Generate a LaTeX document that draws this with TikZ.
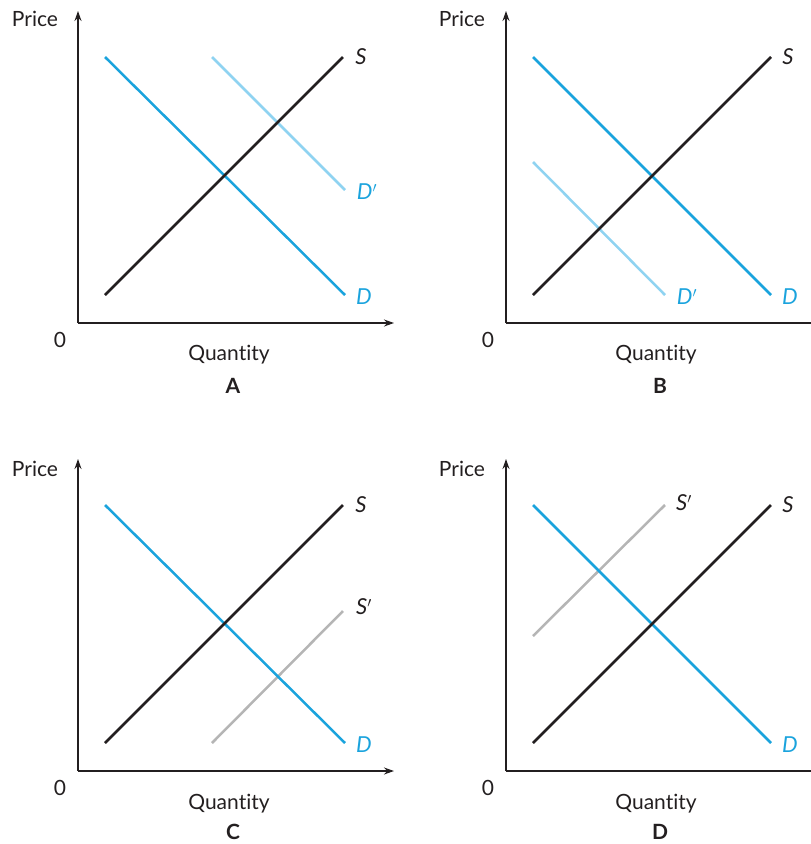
\documentclass[tikz,border=0pt]{standalone}
\usepackage{fontspec}
\setmainfont{Lato}[Ligatures={NoCommon}]
\usetikzlibrary{arrows.meta}
\definecolor{dblue}{HTML}{1AA3DD}
\definecolor{lblue}{HTML}{8FD3F1}
\definecolor{sgray}{HTML}{B5B5B5}
\definecolor{axisc}{HTML}{231F20}
\tikzset{
  axisline/.style={draw=axisc, line width=1.4pt, -{Stealth[length=10pt,width=7pt]}},
  curve/.style={line width=2.5pt},
  scurve/.style={curve, draw=axisc},
  dcurve/.style={curve, draw=dblue},
  dpcurve/.style={curve, draw=lblue},
  spcurve/.style={curve, draw=sgray},
  lab/.style={font=\fontsize{22}{26}\selectfont\itshape, inner sep=0pt},
  dlab/.style={lab, text=dblue},
  slab/.style={lab, text=axisc},
  axlab/.style={font=\fontsize{21}{25}\selectfont, inner sep=0pt, text=axisc},
  title/.style={font=\fontsize{21}{25}\selectfont\bfseries, inner sep=0pt, text=axisc}
}
\begin{document}
\begin{tikzpicture}[x=1pt,y=-1pt]
\useasboundingbox (0,0) rectangle (811,844);
% ---------- Panel A ----------
\begin{scope}
  \coordinate (aO) at (78,323);
  \coordinate (aY) at (78,11);
  \coordinate (aX) at (394,323);
  \draw[axisline] (aO) -- (aY);
  \draw[axisline] (aO) -- (aX);
  \coordinate (aD1) at (105,57);  \coordinate (aD2) at (345,295);
  \coordinate (aS1) at (105,295); \coordinate (aS2) at (343,57);
  \coordinate (aP1) at (212,57);  \coordinate (aP2) at (345,190);
  \draw[dpcurve] (aP1) -- (aP2);
  \draw[dcurve] (aD1) -- (aD2);
  \draw[scurve] (aS1) -- (aS2);
  \node[slab] (aSl) at (361,57) {S};
  \node[dlab] (aPl) at (367,192) {D$'$};
  \node[dlab] (aDl) at (364,297) {D};
  \node[axlab] (aPr) at (35,19) {Price};
  \node[axlab] (a0) at (60,340) {0};
  \node[axlab] (aQ) at (229,355) {Quantity};
  \node[title] (aT) at (233,386) {A};
\end{scope}
% ---------- Panel B ----------
\begin{scope}
  \coordinate (bO) at (506,323);
  \coordinate (bY) at (506,11);
  \coordinate (bX) at (822,323);
  \draw[axisline] (bO) -- (bY);
  \draw[axisline] (bO) -- (bX);
  \coordinate (bD1) at (533,57);  \coordinate (bD2) at (771,295);
  \coordinate (bS1) at (533,295); \coordinate (bS2) at (771,57);
  \coordinate (bP1) at (533,162); \coordinate (bP2) at (665,295);
  \draw[dpcurve] (bP1) -- (bP2);
  \draw[dcurve] (bD1) -- (bD2);
  \draw[scurve] (bS1) -- (bS2);
  \node[slab] (bSl) at (788,57) {S};
  \node[dlab] (bPl) at (687,297) {D$'$};
  \node[dlab] (bDl) at (790,297) {D};
  \node[axlab] (bPr) at (462,19) {Price};
  \node[axlab] (b0) at (488,340) {0};
  \node[axlab] (bQ) at (656,355) {Quantity};
  \node[title] (bT) at (660,386) {B};
\end{scope}
% ---------- Panel C ----------
\begin{scope}
  \coordinate (cO) at (78,771);
  \coordinate (cY) at (78,459);
  \coordinate (cX) at (394,771);
  \draw[axisline] (cO) -- (cY);
  \draw[axisline] (cO) -- (cX);
  \coordinate (cD1) at (105,505); \coordinate (cD2) at (345,743);
  \coordinate (cS1) at (105,743); \coordinate (cS2) at (343,505);
  \coordinate (cP1) at (212,743); \coordinate (cP2) at (343,611);
  \draw[spcurve] (cP1) -- (cP2);
  \draw[dcurve] (cD1) -- (cD2);
  \draw[scurve] (cS1) -- (cS2);
  \node[slab] (cSl) at (361,505) {S};
  \node[slab] (cPl) at (364,607) {S$'$};
  \node[dlab] (cDl) at (364,745) {D};
  \node[axlab] (cPr) at (35,469) {Price};
  \node[axlab] (c0) at (60,788) {0};
  \node[axlab] (cQ) at (229,804) {Quantity};
  \node[title] (cT) at (233,832) {C};
\end{scope}
% ---------- Panel D ----------
\begin{scope}
  \coordinate (dO) at (506,771);
  \coordinate (dY) at (506,459);
  \coordinate (dX) at (822,771);
  \draw[axisline] (dO) -- (dY);
  \draw[axisline] (dO) -- (dX);
  \coordinate (dD1) at (533,505); \coordinate (dD2) at (771,743);
  \coordinate (dS1) at (533,743); \coordinate (dS2) at (771,505);
  \coordinate (dP1) at (533,636); \coordinate (dP2) at (665,505);
  \draw[spcurve] (dP1) -- (dP2);
  \draw[dcurve] (dD1) -- (dD2);
  \draw[scurve] (dS1) -- (dS2);
  \node[slab] (dSl) at (788,505) {S};
  \node[slab] (dPl) at (684,503) {S$'$};
  \node[dlab] (dDl) at (790,745) {D};
  \node[axlab] (dPr) at (462,469) {Price};
  \node[axlab] (d0) at (488,788) {0};
  \node[axlab] (dQ) at (656,804) {Quantity};
  \node[title] (dT) at (660,832) {D};
\end{scope}
\end{tikzpicture}
\end{document}
